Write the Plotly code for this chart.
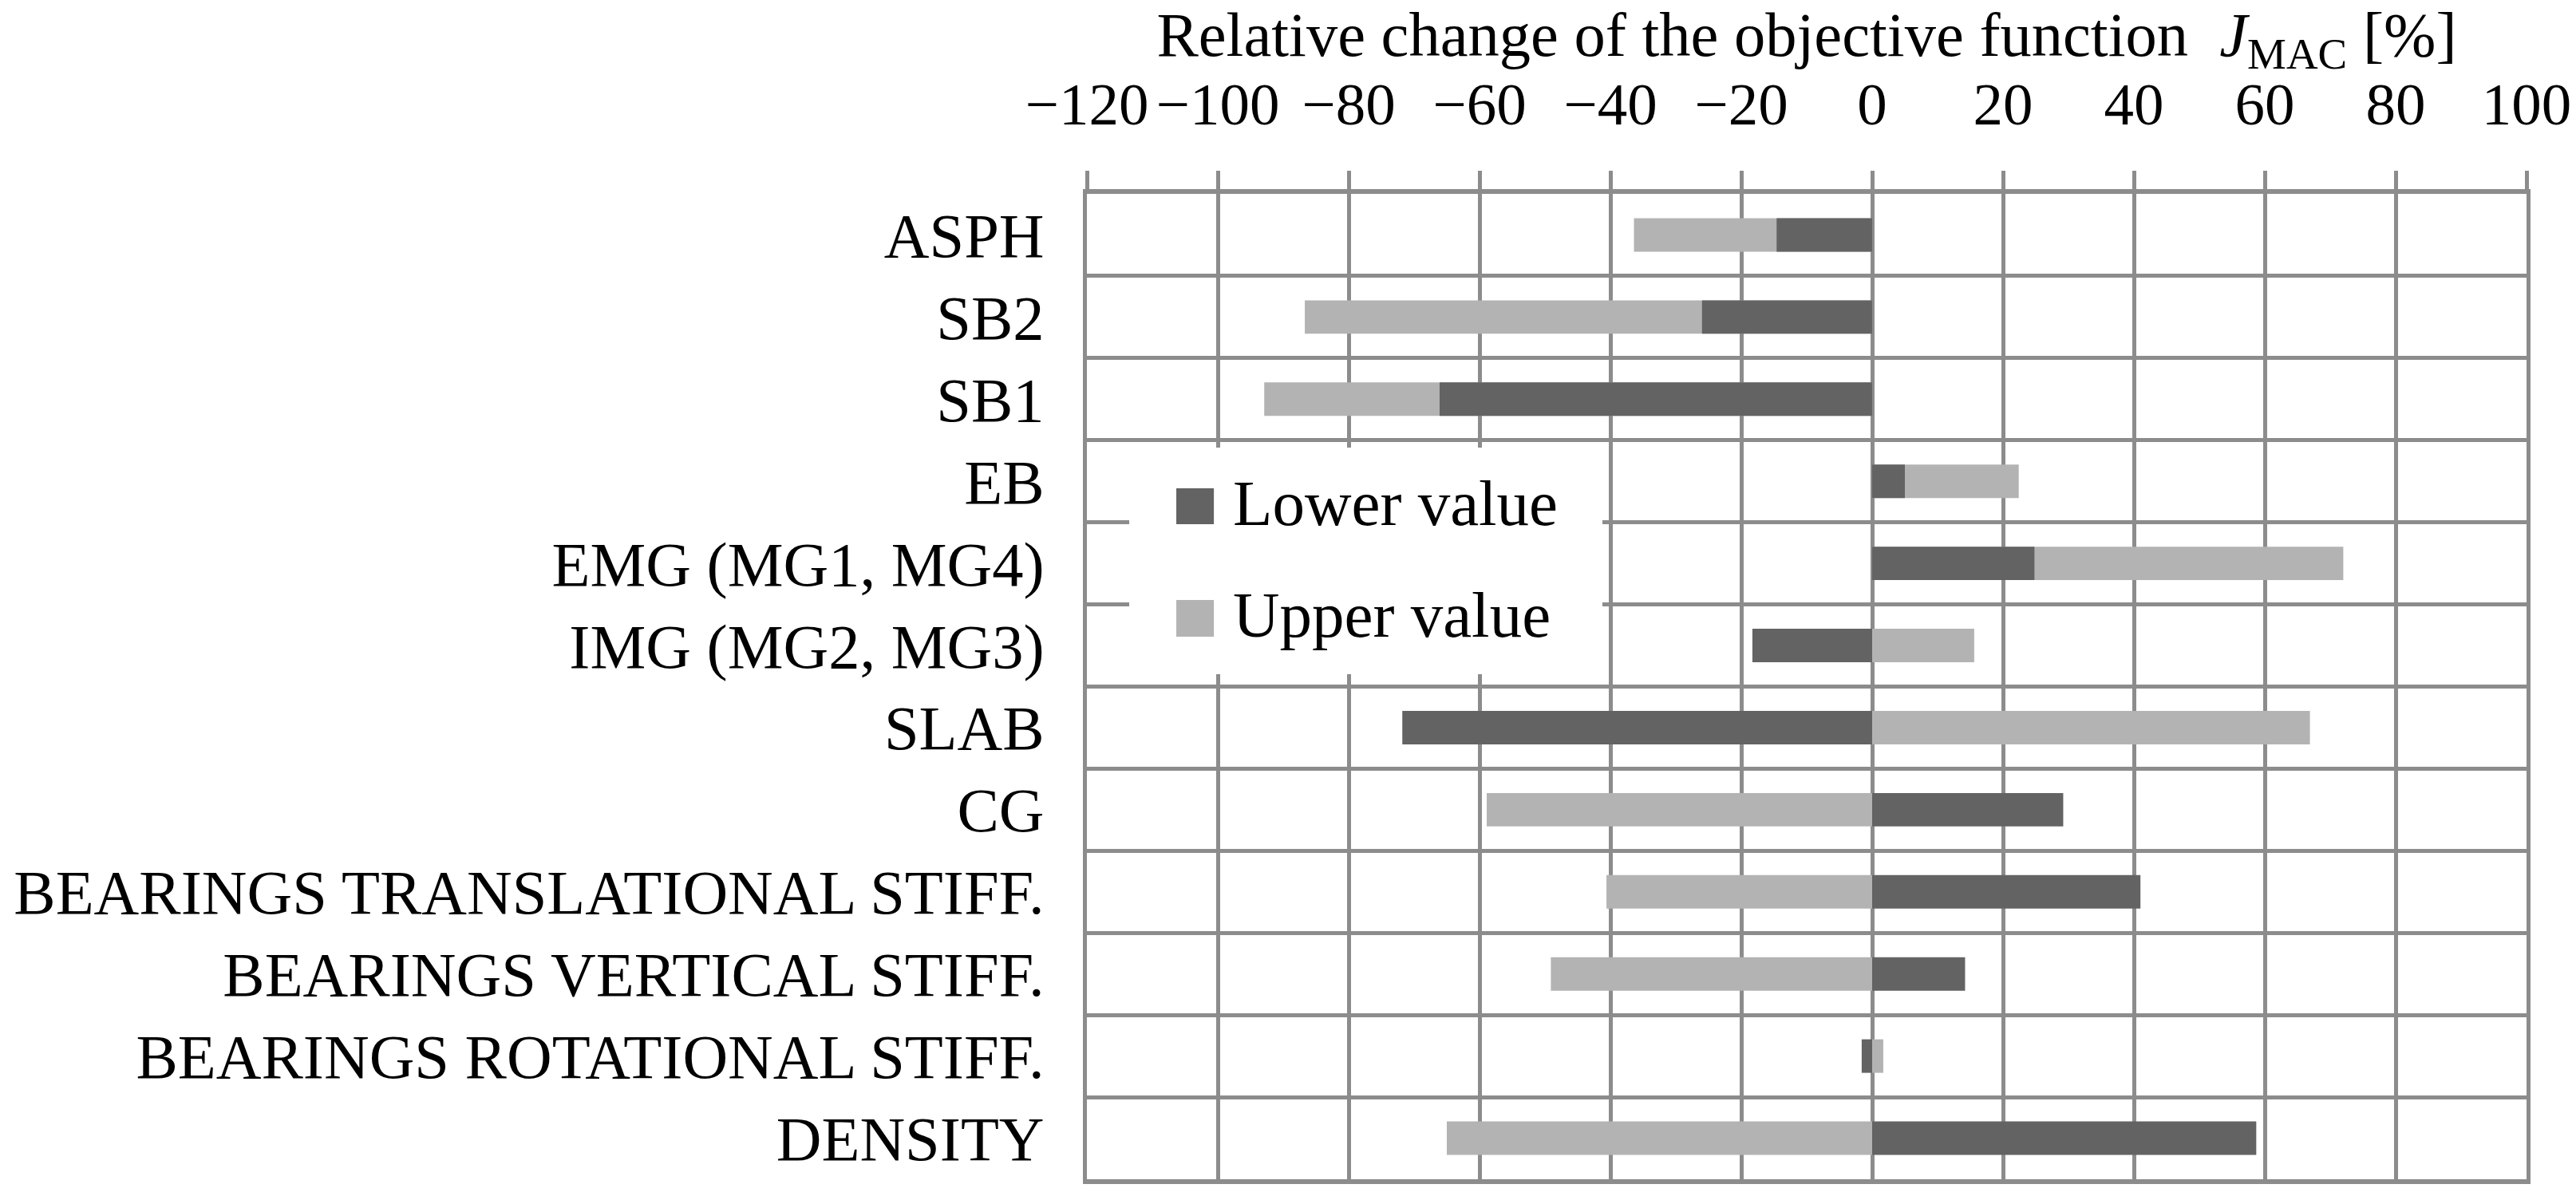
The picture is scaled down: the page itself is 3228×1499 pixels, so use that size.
import plotly.graph_objects as go

# ---- data ----
categories = [
    "ASPH",
    "SB2",
    "SB1",
    "EB",
    "EMG (MG1, MG4)",
    "IMG (MG2, MG3)",
    "SLAB",
    "CG",
    "BEARINGS TRANSLATIONAL STIFF.",
    "BEARINGS VERTICAL STIFF.",
    "BEARINGS ROTATIONAL STIFF.",
    "DENSITY",
]
lower_value = [-14.6, -26.0, -66.1, 5.0, 24.8, -18.3, -71.8, 29.2, 41.0, 14.2, -1.6, 58.7]
upper_value = [-36.4, -86.7, -92.9, 22.4, 72.0, 15.6, 66.9, -58.9, -40.6, -49.1, 1.7, -65.0]
x_ticks = [-120, -100, -80, -60, -40, -20, 0, 20, 40, 60, 80, 100]
series_names = ["Lower value", "Upper value"]

# ---- style ----
FONT = "Liberation Serif"
DARK = "#636363"
LIGHT = "#b3b3b3"
GRID = "#8c8c8c"
FS = 78.5

fig = go.Figure()
fig.add_trace(go.Bar(y=categories, x=upper_value, name=series_names[1], orientation="h",
                     marker=dict(color=LIGHT, line=dict(width=0)), showlegend=False))
fig.add_trace(go.Bar(y=categories, x=lower_value, name=series_names[0], orientation="h",
                     marker=dict(color=DARK, line=dict(width=0)), showlegend=False))

fig.update_layout(
    width=3228, height=1499,
    margin=dict(l=1362, r=62, t=243, b=21, pad=0),
    paper_bgcolor="white", plot_bgcolor="white",
    barmode="overlay", bargap=0.592,
    font=dict(family=FONT, size=FS, color="black"),
    showlegend=False,
)
fig.update_xaxes(
    side="top", range=[-120, 100], tickmode="array", tickvals=x_ticks,
    ticks="outside", ticklen=23, tickwidth=4.5, tickcolor=GRID,
    showgrid=True, gridcolor=GRID, gridwidth=4.5,
    showline=True, linecolor=GRID, linewidth=6, mirror=True,
    zeroline=False, automargin=False,
    tickfont=dict(family=FONT, size=75, color="black"),
    ticklabelstandoff=28,
    title=dict(text="Relative change of the objective function  <i>J</i><sub>MAC</sub> [%]",
               font=dict(family=FONT, size=FS, color="black"), standoff=8),
)
fig.update_yaxes(
    type="category", categoryorder="array", categoryarray=categories,
    autorange="reversed", tickson="boundaries",
    showgrid=True, gridcolor=GRID, gridwidth=4.5,
    ticks="", showline=True, linecolor=GRID, linewidth=4.5, mirror=True,
    zeroline=False, automargin=False,
    tickfont=dict(family=FONT, size=FS, color="black"),
    ticklabelstandoff=33,
)

# ---- legend (drawn as shapes + text, sized like the reference) ----
fig.add_shape(type="rect", xref="paper", yref="paper", x0=0.0294, x1=0.3581, y0=0.5126, y1=0.7425,
              fillcolor="white", line=dict(width=0), layer="above")
swatches = [(DARK, 0.6648, 0.7012), (LIGHT, 0.5506, 0.5879)]
for (col, y0, y1), name in zip(swatches, series_names):
    fig.add_shape(type="rect", xref="paper", yref="paper", x0=0.0621, x1=0.0882, y0=y0, y1=y1,
                  fillcolor=col, line=dict(width=0), layer="above")
    fig.add_annotation(xref="paper", yref="paper", x=0.1003, y=(y0 + y1) / 2 + 0.003, text=name,
                       showarrow=False, xanchor="left", yanchor="middle",
                       font=dict(family=FONT, size=81, color="black"))

fig.write_html("out.html", config={"displayModeBar": False},
               post_script="document.body.style.margin='0';document.body.style.overflow='hidden';")
